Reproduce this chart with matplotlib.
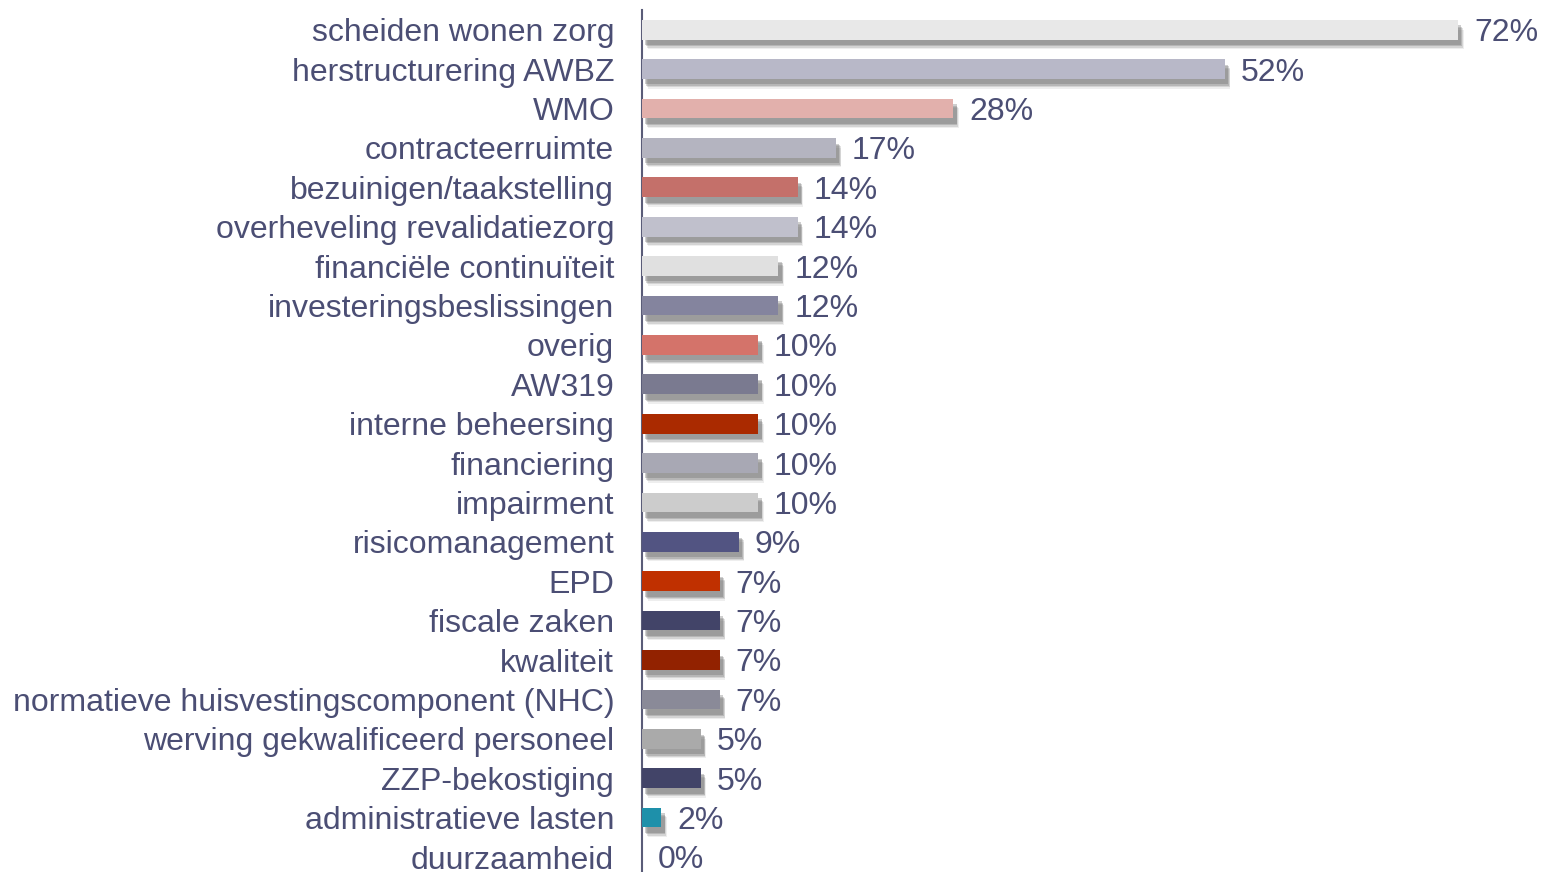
import numpy as np
import matplotlib
matplotlib.use('Agg')
import matplotlib.pyplot as plt
import matplotlib.patheffects as pe

# categorieen en percentages (aflezen uit de figuur)
categories = ['scheiden wonen zorg', 'herstructurering AWBZ', 'WMO', 'contracteerruimte',
              'bezuinigen/taakstelling', 'overheveling revalidatiezorg', 'financiële continuïteit',
              'investeringsbeslissingen', 'overig', 'AW319', 'interne beheersing', 'financiering',
              'impairment', 'risicomanagement', 'EPD', 'fiscale zaken', 'kwaliteit',
              'normatieve huisvestingscomponent (NHC)', 'werving gekwalificeerd personeel',
              'ZZP-bekostiging', 'administratieve lasten', 'duurzaamheid']
values = [72.4, 51.7, 27.6, 17.2, 13.8, 13.8, 12.1, 12.1, 10.3, 10.3, 10.3, 10.3,
          10.3, 8.6, 6.9, 6.9, 6.9, 6.9, 5.2, 5.2, 1.7, 0.0]
colors = ['#e8e8e8', '#b8b8c8', '#e2b0ac', '#b4b4c0', '#c4706a', '#c0c0cc', '#e0e0e0',
          '#84849e', '#d4736a', '#7a7a90', '#aa2a00', '#a8a8b4', '#cccccc', '#525482',
          '#c03000', '#424468', '#922200', '#8a8a98', '#aaaaaa', '#424468', '#1e90aa', '#ffffff']

text_color = '#4b4e74'
plt.rcParams['font.family'] = ['Liberation Sans', 'DejaVu Sans']

fig = plt.figure(figsize=(15.41, 8.72), dpi=100)
ax = fig.add_axes([642 / 1541, 0, 1 - 642 / 1541, 1 - 10 / 872])

y = np.arange(len(categories))
# schaduw met een paar lagen om een zachte rand te krijgen
shadow = [pe.SimplePatchShadow(offset=(ox, oy), shadow_rgbFace='#606060', alpha=a)
          for ox, oy, a in [(4, -7, 0.1), (3.5, -6, 0.18), (3, -5, 0.25), (2.5, -4, 0.3)]]
bars = ax.barh(y, values, height=0.5, color=colors, zorder=3)
for b, v in zip(bars, values):
    if v > 0:
        b.set_path_effects(shadow + [pe.Normal()])

for yi, v in zip(y, values):
    ax.annotate('%d%%' % round(v), (v, yi), xytext=(11.5, -2.5), textcoords='offset points',
                va='center', ha='left', fontsize=23, color=text_color)

ax.set_xlim(0, (1541 - 642) / 11.27)
ax.set_ylim(21 + 15 / 39.4, -0.5)
ax.set_yticks(y)
ax.set_yticklabels(categories, fontsize=23, color=text_color)
ax.tick_params(axis='y', length=0, pad=20)
ax.set_xticks([])
for s in ['top', 'right', 'bottom']:
    ax.spines[s].set_visible(False)
ax.spines['left'].set_color('#5a5c78')
ax.spines['left'].set_linewidth(1.5)

fig.savefig('out.png', dpi=100)
